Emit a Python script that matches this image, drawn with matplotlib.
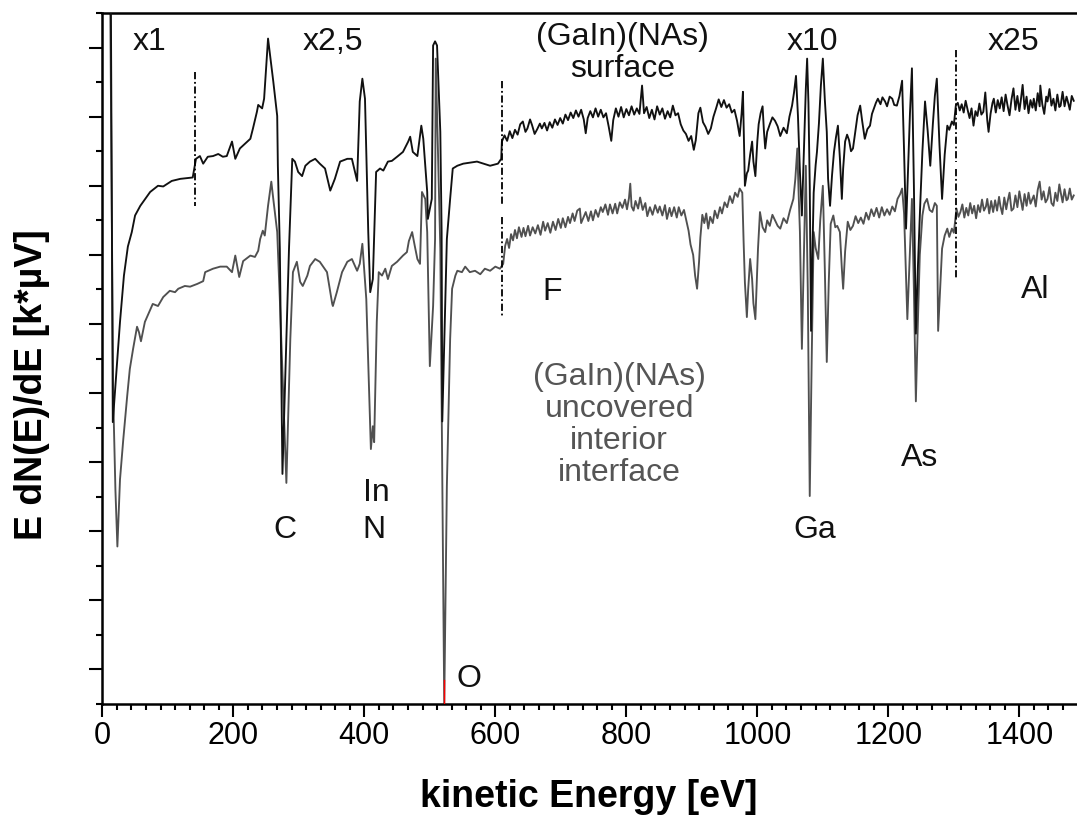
import matplotlib.pyplot as plt
from matplotlib.ticker import MultipleLocator, AutoMinorLocator

# surface spectrum (black), kinetic energy [eV] / signal [a.u.]
# part recorded at x1 and x2,5
surf_e_lo = [13, 16, 27, 33, 39, 45, 50, 58, 73, 85, 93, 106, 119, 138, 143, 149, 154, 161,
             169, 177, 184, 190, 198, 203, 210, 218, 226, 230, 236, 238, 244, 247, 253, 261,
             267, 268, 271, 275, 285, 290, 294, 299, 305, 310, 317, 325, 332, 340, 348, 355,
             363, 374, 381, 389, 393, 397, 401, 406, 409, 413, 418, 424, 429, 436, 442, 450,
             459, 467, 470, 474, 481, 487, 490, 496, 497, 503, 505, 508, 511, 516, 518, 519,
             526, 531, 535, 542, 551, 572, 592, 604, 609]
surf_y_lo = [98, 35.8, 50.3, 57.0, 61.2, 63.3, 65.7, 67.1, 69.1, 70.0, 69.9, 70.7, 71.0, 71.2,
             73.9, 74.3, 73.2, 74.2, 74.3, 74.6, 74.2, 74.3, 76.4, 73.9, 75.4, 76.1, 76.8,
             78.3, 80.7, 81.7, 81.2, 82.6, 91.3, 85.1, 80.1, 72.9, 60.9, 28.3, 60.9, 73.9,
             73.5, 72.0, 71.4, 72.9, 73.5, 73.9, 73.2, 72.5, 69.3, 71.0, 73.5, 73.9, 73.9,
             70.7, 82.2, 85.5, 82.6, 63.3, 54.6, 56.5, 72.0, 72.5, 72.2, 73.5, 73.6, 74.2,
             74.9, 76.4, 77.1, 74.9, 74.3, 78.7, 76.8, 69.1, 65.2, 68.1, 90.3, 90.9, 90.3,
             77.8, 63.3, 35.9, 62.3, 68.1, 72.5, 72.9, 73.2, 73.5, 72.9, 73.2, 73.9]
# part recorded at x10
surf_e_mid = [610, 614, 618, 622, 626, 630, 634, 638, 642, 646, 649, 653, 656, 660, 664, 668,
              671, 675, 679, 683, 687, 691, 695, 699, 703, 707, 711, 715, 719, 723, 727, 731,
              735, 738, 741, 745, 749, 753, 757, 761, 765, 769, 773, 777, 780, 784, 788, 792,
              796, 800, 804, 808, 812, 816, 820, 824, 827, 831, 835, 839, 843, 847, 851, 855,
              859, 863, 867, 871, 875, 879, 883, 887, 891, 895, 899, 903, 906, 910, 913, 917,
              921, 925, 929, 933, 937, 941, 945, 949, 953, 957, 961, 965, 969, 973, 976, 978,
              981, 984, 986, 989, 992, 994, 997, 1000, 1002, 1005, 1008, 1010, 1012, 1015,
              1019, 1023, 1027, 1031, 1035, 1040, 1045, 1049, 1053, 1056, 1059, 1062, 1065,
              1068, 1071, 1074, 1076, 1078, 1080, 1082, 1084, 1086, 1089, 1091, 1094, 1097,
              1100, 1103, 1106, 1108, 1111, 1114, 1117, 1120, 1123, 1126, 1129, 1131, 1134,
              1137, 1140, 1143, 1146, 1149, 1153, 1157, 1160, 1164, 1168, 1172, 1175, 1178,
              1181, 1184, 1188, 1191, 1195, 1198, 1202, 1206, 1209, 1213, 1217, 1221, 1224,
              1227, 1230, 1233, 1236, 1239, 1242, 1245, 1249, 1252, 1256, 1260, 1264, 1268,
              1271, 1274, 1278, 1282, 1286, 1290, 1293, 1297, 1300]
surf_y_mid = [76.4, 77.3, 76.5, 77.9, 76.9, 78.1, 77.4, 78.9, 79.3, 77.8, 78.3, 79.6, 78.8,
              77.5, 78.2, 79.0, 78.3, 79.1, 78.0, 79.2, 78.4, 79.6, 78.8, 79.8, 79.0, 80.3,
              79.5, 80.6, 79.8, 80.9, 80.0, 81.0, 79.6, 77.6, 79.8, 80.8, 79.9, 81.2, 80.0,
              81.0, 79.9, 80.5, 78.6, 76.5, 79.5, 81.2, 80.0, 81.4, 79.9, 81.1, 80.2, 81.5,
              80.3, 81.2, 80.4, 84.5, 80.5, 81.4, 79.8, 81.0, 79.6, 81.5, 80.3, 81.2, 79.7,
              80.8, 79.9, 81.6, 80.2, 80.5, 78.9, 78.0, 77.5, 76.5, 77.2, 75.2, 76.6, 80.5,
              81.3, 79.2, 78.5, 77.5, 78.3, 80.0, 81.2, 82.5, 81.4, 82.4, 81.3, 81.8, 80.6,
              81.0, 79.4, 77.2, 80.5, 83.6, 70.0, 71.8, 72.2, 74.5, 76.4, 73.5, 71.4, 76.5,
              78.9, 80.5, 81.5, 78.0, 75.4, 77.8, 78.9, 79.9, 79.4, 78.6, 77.2, 78.4, 77.6,
              80.0, 81.6, 83.5, 85.9, 80.1, 72.0, 65.7, 75.0, 84.0, 88.4, 82.0, 70.0, 49.0,
              60.0, 69.0, 73.0, 74.9, 79.0, 84.5, 88.4, 82.5, 77.8, 71.0, 67.1, 71.5, 74.9,
              77.0, 78.7, 74.0, 68.1, 72.5, 76.4, 77.4, 76.6, 75.0, 75.4, 77.5, 80.2, 81.6,
              79.4, 76.8, 78.2, 78.7, 80.4, 81.2, 82.0, 82.6, 81.8, 82.8, 82.2, 81.5, 82.9,
              82.6, 81.7, 81.6, 83.0, 85.2, 75.0, 63.8, 72.0, 80.5, 87.0, 70.0, 48.6, 58.0,
              68.1, 75.0, 82.2, 78.0, 72.9, 79.0, 83.0, 85.5, 76.0, 68.1, 74.5, 78.7, 78.1,
              79.3, 78.8]
# part recorded at x25
surf_e_hi = [1303, 1306, 1309, 1312, 1315, 1318, 1321, 1324, 1327, 1330, 1333, 1336, 1339,
             1342, 1345, 1348, 1351, 1353, 1356, 1359, 1361, 1364, 1367, 1370, 1373, 1376,
             1379, 1382, 1385, 1388, 1391, 1394, 1397, 1400, 1402, 1405, 1408, 1411, 1414,
             1417, 1420, 1422, 1425, 1428, 1431, 1432, 1435, 1438, 1441, 1443, 1446, 1449,
             1452, 1455, 1458, 1461, 1463, 1466, 1469, 1472, 1474, 1477, 1480, 1483]
surf_y_hi = [81.6, 82.0, 80.9, 81.8, 80.6, 82.3, 81.0, 79.8, 81.2, 78.7, 80.8, 80.1, 81.9,
             80.3, 80.7, 83.5, 79.5, 77.8, 80.4, 82.0, 82.6, 80.6, 82.4, 81.2, 82.8, 80.8,
             83.2, 81.6, 80.2, 82.5, 84.1, 81.0, 83.0, 80.8, 82.2, 84.6, 81.1, 82.9, 80.5,
             82.4, 81.3, 82.6, 80.9, 83.4, 81.5, 84.5, 81.8, 80.4, 82.9, 82.2, 84.0, 81.6,
             82.6, 80.9, 83.2, 81.4, 81.6, 83.6, 81.5, 82.9, 82.2, 81.0, 83.0, 82.3]

# uncovered interior interface spectrum (grey)
int_e_lo = [12, 16.5, 20, 23, 27, 32, 38, 42, 47, 53, 56, 59, 65, 70, 77, 85, 93, 103, 111,
            116, 126, 134, 145, 154, 157, 169, 180, 190, 198, 203, 209, 215, 226, 233, 238,
            241, 245, 248, 253, 258, 261, 267, 271, 281, 287, 291, 297, 302, 306, 313, 317,
            325, 332, 343, 351, 352, 358, 366, 374, 381, 389, 393, 397, 403, 410, 413, 415,
            419, 422, 427, 432, 436, 442, 450, 459, 465, 468, 473, 477, 481, 485, 488, 493,
            496, 500, 505, 508, 509, 516, 522, 526, 531, 534, 539, 542, 549, 554, 561, 569,
            577, 584, 592, 600, 607]
int_y_lo = [98, 40.0, 26.0, 17.8, 27.5, 33.3, 39.6, 43.5, 46.4, 49.6, 48.8, 47.5, 50.3, 51.4,
            52.9, 52.6, 53.9, 54.8, 54.6, 55.1, 55.5, 55.4, 55.8, 56.2, 57.5, 58.0, 58.3,
            58.3, 57.5, 59.9, 56.8, 59.1, 59.9, 59.7, 60.6, 62.3, 63.5, 62.8, 67.1, 70.6,
            68.1, 63.3, 53.6, 27.0, 47.8, 57.5, 59.0, 56.1, 55.5, 57.0, 58.4, 59.4, 59.0,
            57.5, 52.9, 52.6, 54.6, 57.5, 59.0, 59.4, 57.7, 58.7, 61.6, 53.6, 31.9, 35.2,
            32.9, 50.3, 57.5, 57.0, 58.0, 56.5, 58.4, 59.0, 59.9, 60.4, 62.0, 63.3, 61.3,
            59.4, 58.7, 69.1, 68.1, 63.3, 43.9, 52.6, 62.3, 88.4, 60.9, -5.0, 26.5, 47.8,
            55.1, 57.0, 57.7, 57.5, 58.3, 57.5, 57.7, 57.2, 58.0, 57.7, 58.3, 58.0]
int_e_mid = [612, 615, 618, 621, 624, 627, 630, 633, 636, 640, 643, 646, 650, 653, 657, 661,
             665, 669, 673, 676, 680, 684, 688, 692, 696, 700, 703, 707, 711, 714, 718, 721,
             725, 729, 731, 734, 738, 742, 746, 749, 753, 757, 761, 764, 768, 772, 775, 779,
             783, 786, 790, 794, 798, 801, 804, 806, 808, 811, 814, 818, 821, 825, 829, 832,
             836, 840, 844, 848, 851, 855, 859, 862, 866, 869, 873, 877, 880, 884, 888, 892,
             895, 898, 902, 905, 908, 911, 913, 916, 919, 922, 925, 928, 932, 935, 939, 943,
             946, 950, 954, 958, 962, 966, 970, 973, 977, 979, 981, 984, 986, 989, 992, 994,
             997, 999, 1001, 1004, 1008, 1012, 1015, 1019, 1023, 1027, 1031, 1035, 1040,
             1045, 1050, 1055, 1058, 1061, 1063, 1065, 1068, 1071, 1074, 1077, 1080, 1083,
             1086, 1089, 1093, 1096, 1100, 1103, 1106, 1109, 1112, 1116, 1119, 1122, 1126,
             1129, 1131, 1134, 1138, 1142, 1146, 1150, 1154, 1158, 1162, 1166, 1170, 1174,
             1178, 1182, 1186, 1190, 1194, 1198, 1202, 1206, 1210, 1214, 1218, 1221, 1224,
             1226, 1229, 1232, 1236, 1239, 1242, 1245, 1248, 1252, 1255, 1259, 1263, 1267,
             1271, 1274, 1276, 1279, 1282, 1286, 1290, 1293, 1297, 1300]
int_y_mid = [58.7, 61.3, 62.3, 61.0, 63.0, 62.1, 63.6, 62.4, 64.0, 62.6, 63.9, 62.7, 64.2,
             62.8, 64.0, 63.1, 64.3, 62.9, 64.8, 63.5, 64.6, 63.2, 64.8, 63.6, 65.2, 63.9,
             65.3, 64.0, 65.5, 64.6, 66.0, 64.9, 66.4, 66.7, 64.6, 65.3, 66.2, 64.9, 66.3,
             65.0, 66.5, 65.5, 66.9, 66.2, 67.3, 65.8, 67.3, 66.0, 67.4, 66.0, 67.6, 66.8,
             68.0, 66.6, 68.2, 70.3, 67.0, 66.4, 67.8, 66.7, 68.3, 66.5, 67.5, 65.6, 66.9,
             65.8, 67.2, 66.1, 67.0, 65.7, 67.2, 65.2, 66.8, 65.6, 66.9, 65.4, 66.9, 65.7,
             66.5, 64.8, 63.5, 61.5, 60.0, 57.0, 55.1, 59.0, 62.5, 65.8, 64.6, 66.0, 63.8,
             65.5, 64.6, 66.4, 65.3, 66.9, 66.0, 67.6, 66.9, 68.5, 67.5, 69.0, 68.4, 69.6,
             69.0, 62.0, 56.0, 51.0, 55.0, 59.4, 56.5, 53.0, 50.7, 56.0, 60.9, 66.2, 64.0,
             63.3, 65.0, 64.2, 65.8, 65.0, 64.2, 63.8, 65.3, 64.6, 66.5, 68.1, 71.0, 75.4,
             69.0, 63.3, 46.4, 60.0, 72.9, 55.0, 25.1, 45.0, 63.3, 61.0, 59.4, 65.0, 70.0,
             58.0, 44.5, 56.0, 64.5, 65.7, 64.0, 64.2, 63.3, 58.0, 55.1, 60.5, 64.8, 63.6,
             64.2, 65.6, 64.6, 65.4, 64.5, 66.1, 65.1, 66.6, 65.6, 66.8, 65.4, 66.9, 65.7,
             66.6, 65.8, 67.0, 66.3, 68.1, 68.8, 69.6, 66.0, 60.0, 50.7, 58.0, 68.1, 55.0,
             38.8, 50.0, 60.0, 65.7, 67.4, 68.1, 66.5, 66.2, 67.5, 67.1, 49.0, 55.0, 60.9,
             62.8, 63.8, 62.6, 63.8, 63.2]
int_e_hi = [1304, 1307, 1310, 1313, 1316, 1319, 1322, 1325, 1328, 1331, 1334, 1337, 1340,
            1343, 1346, 1349, 1351, 1354, 1357, 1360, 1363, 1366, 1369, 1371, 1374, 1377,
            1380, 1382, 1385, 1388, 1391, 1394, 1397, 1400, 1402, 1405, 1408, 1411, 1414,
            1417, 1420, 1422, 1425, 1428, 1431, 1434, 1437, 1440, 1443, 1446, 1449, 1452,
            1455, 1458, 1461, 1463, 1466, 1469, 1472, 1474, 1477, 1480, 1483]
int_y_hi = [66.7, 65.5, 66.2, 67.3, 65.4, 66.8, 65.7, 67.5, 66.0, 67.1, 65.3, 67.2, 66.2,
            68.0, 66.4, 67.0, 68.1, 66.0, 67.8, 66.2, 67.9, 66.4, 68.4, 67.1, 65.9, 68.3,
            66.6, 67.7, 69.0, 66.4, 66.7, 68.6, 66.9, 69.2, 68.1, 66.5, 68.8, 67.1, 69.0,
            67.4, 68.1, 68.6, 67.0, 69.4, 70.6, 68.0, 69.2, 67.6, 68.1, 69.8, 67.5, 67.1,
            69.0, 67.8, 70.2, 69.1, 67.6, 69.5, 67.9, 68.1, 69.6, 68.0, 68.6]

surf_e = surf_e_lo + surf_e_mid + surf_e_hi
surf_y = surf_y_lo + surf_y_mid + surf_y_hi
int_e = int_e_lo + int_e_mid + int_e_hi
int_y = int_y_lo + int_y_mid + int_y_hi

# scale-change markers (energy, y from, y to)
div_e = [142, 610, 610, 1303, 1303]
div_y0 = [86.5, 85.2, 65.5, 89.6, 72.5]
div_y1 = [67.1, 67.4, 51.0, 73.5, 56.5]

scale_labels = ["x1", "x2,5", "x10", "x25"]
scale_e = [72, 352, 1084, 1391]

peak_labels = ["C", "In", "N", "O", "F", "Ga", "As", "Al"]
peak_e = [279, 418, 414, 559, 687, 1088, 1248, 1424]
peak_y = [20.3, 25.7, 20.3, -1.2, 54.8, 20.3, 30.7, 55.1]

plt.rcParams['font.family'] = ['Liberation Sans', 'DejaVu Sans']

fig = plt.figure(figsize=(10.77, 8.2), dpi=100)
ax = fig.add_axes([0.095, 0.1402, 0.905, 0.8427])

ax.plot(int_e, int_y, color="#505050", lw=1.35, zorder=2)
ax.plot(surf_e, surf_y, color="#111111", lw=1.35, zorder=3)
ax.plot([521, 521], [-5.0, -1.5], color="red", lw=1.0, zorder=4)

for e, a, b in zip(div_e, div_y0, div_y1):
    ax.plot([e, e], [a, b], color="black", lw=1.3, ls=(0, (4, 1.5, 1, 1.5)), zorder=4)

for t, e in zip(scale_labels, scale_e):
    ax.text(e, 91.0, t, fontsize=23, ha="center", va="center", color="#111111")
ax.text(794, 89.3, "(GaIn)(NAs)\nsurface", fontsize=23, ha="center", va="center",
        color="#111111", linespacing=1.08)
ax.text(789, 35.5, "(GaIn)(NAs)\nuncovered\ninterior\ninterface", fontsize=23,
        ha="center", va="center", color="#555555", linespacing=1.08)
for t, e, y in zip(peak_labels, peak_e, peak_y):
    ax.text(e, y, t, fontsize=23, ha="center", va="center", color="#111111")

ax.set_xlim(0, 1488)
ax.set_ylim(-5, 95)
ax.xaxis.set_major_locator(MultipleLocator(200))
ax.xaxis.set_minor_locator(AutoMinorLocator(9))
ax.yaxis.set_major_locator(MultipleLocator(10))
ax.yaxis.set_minor_locator(MultipleLocator(5))
ax.set_yticklabels([])
ax.tick_params(which="major", length=9.5, width=1.5, direction="out")
ax.tick_params(which="minor", length=4.5, width=1.5, direction="out")
ax.tick_params(axis="x", labelsize=22, pad=2)
ax.spines["right"].set_visible(False)
for s in ["left", "bottom", "top"]:
    ax.spines[s].set_linewidth(1.8)

ax.set_xlabel("kinetic Energy [eV]", fontsize=27, fontweight="bold")
ax.xaxis.set_label_coords(0.499, -0.133)
ax.xaxis.label.set_va("center")
ax.set_ylabel("E dN(E)/dE [k*µV]", fontsize=27, fontweight="bold")
ax.yaxis.set_label_coords(-0.072, 0.463)
ax.yaxis.label.set_va("center")

plt.savefig("out.png", dpi=100)
